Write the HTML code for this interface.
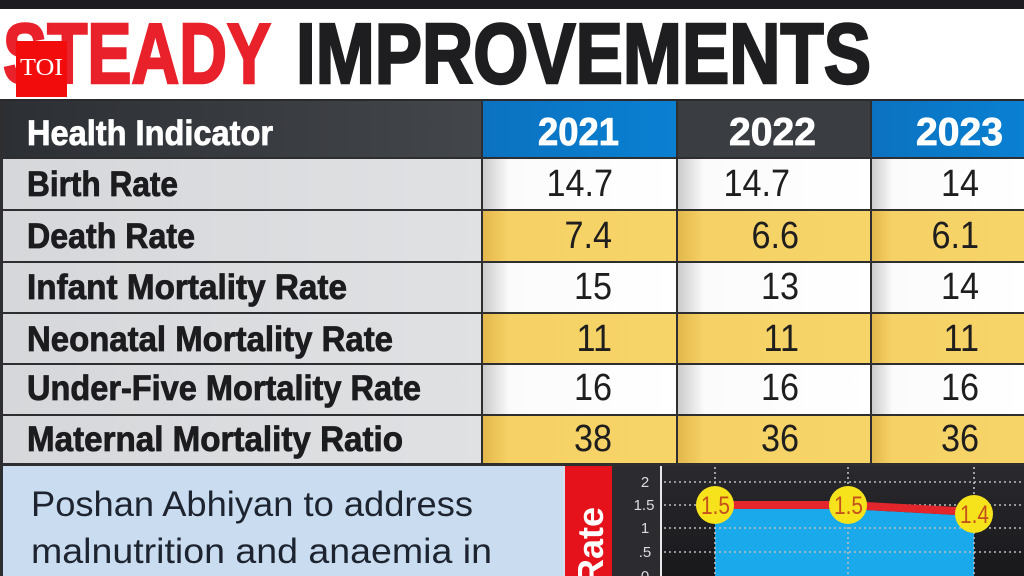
<!DOCTYPE html>
<html>
<head>
<meta charset="utf-8">
<style>
  html,body{margin:0;padding:0;background:#fff;}
  svg{display:block;}
</style>
</head>
<body>
<svg width="1024" height="576" viewBox="0 0 1024 576" xmlns="http://www.w3.org/2000/svg">
  <defs>
    <linearGradient id="whiteCell" x1="0" y1="0" x2="1" y2="0">
      <stop offset="0" stop-color="#c9c9c9"/>
      <stop offset="0.14" stop-color="#fbfbfb"/>
      <stop offset="1" stop-color="#ffffff"/>
    </linearGradient>
    <linearGradient id="yellowCell" x1="0" y1="0" x2="1" y2="0">
      <stop offset="0" stop-color="#e2b64a"/>
      <stop offset="0.14" stop-color="#f6d266"/>
      <stop offset="1" stop-color="#f7d468"/>
    </linearGradient>
    <linearGradient id="labelCell" x1="0" y1="0" x2="1" y2="0">
      <stop offset="0" stop-color="#d5d7da"/>
      <stop offset="1" stop-color="#dfe1e3"/>
    </linearGradient>
    <linearGradient id="hdrDark" x1="0" y1="0" x2="1" y2="0">
      <stop offset="0" stop-color="#2c2f33"/>
      <stop offset="1" stop-color="#43464b"/>
    </linearGradient>
    <linearGradient id="hdrBlue" x1="0" y1="0" x2="1" y2="0">
      <stop offset="0" stop-color="#0b72c0"/>
      <stop offset="1" stop-color="#0a80d2"/>
    </linearGradient>
    <linearGradient id="chartBg" x1="0" y1="0" x2="0" y2="1">
      <stop offset="0" stop-color="#2a2a2e"/>
      <stop offset="1" stop-color="#18181b"/>
    </linearGradient>
  </defs>

  <!-- top black bar -->
  <rect x="0" y="0" width="1024" height="9" fill="#1d1d21"/>
  <rect x="0" y="9" width="1024" height="91" fill="#ffffff"/>

  <!-- Title -->
  <text x="3" y="83" font-family="Liberation Sans, sans-serif" font-weight="bold" font-size="85" fill="#e8212b" stroke="#e8212b" stroke-width="2.5" textLength="268" lengthAdjust="spacingAndGlyphs">STEADY</text>
  <text x="296" y="83" font-family="Liberation Sans, sans-serif" font-weight="bold" font-size="85" fill="#1e1e20" stroke="#1e1e20" stroke-width="2.5" textLength="575" lengthAdjust="spacingAndGlyphs">IMPROVEMENTS</text>

  <!-- TOI logo -->
  <rect x="16" y="41" width="51" height="56" fill="#f20c0c"/>
  <text x="20" y="75" font-family="Liberation Serif, serif" font-size="24" fill="#ffffff" textLength="43" lengthAdjust="spacingAndGlyphs">TOI</text>

  <!-- Header row -->
  <rect x="0" y="100" width="482" height="58" fill="url(#hdrDark)"/>
  <rect x="482" y="100" width="195" height="58" fill="url(#hdrBlue)"/>
  <rect x="677" y="100" width="194" height="58" fill="#3a3d42"/>
  <rect x="871" y="100" width="153" height="58" fill="url(#hdrBlue)"/>
  <rect x="0" y="99" width="1024" height="2" fill="#2a2a2e"/>

  <g font-family="Liberation Sans, sans-serif" font-weight="bold" fill="#ffffff" stroke="#ffffff" stroke-width="0.8">
    <text x="27" y="145" font-size="35" textLength="246" lengthAdjust="spacingAndGlyphs">Health Indicator</text>
    <text x="538" y="145" font-size="39" textLength="81" lengthAdjust="spacingAndGlyphs">2021</text>
    <text x="729" y="145" font-size="39" textLength="87" lengthAdjust="spacingAndGlyphs">2022</text>
    <text x="916" y="145" font-size="39" textLength="87" lengthAdjust="spacingAndGlyphs">2023</text>
  </g>

  <!-- Rows backgrounds -->
  <rect x="0" y="158" width="482" height="52" fill="url(#labelCell)"/>
  <rect x="482" y="158" width="195" height="52" fill="url(#whiteCell)"/>
  <rect x="677" y="158" width="194" height="52" fill="url(#whiteCell)"/>
  <rect x="871" y="158" width="153" height="52" fill="url(#whiteCell)"/>
  <rect x="0" y="210" width="482" height="52" fill="url(#labelCell)"/>
  <rect x="482" y="210" width="195" height="52" fill="url(#yellowCell)"/>
  <rect x="677" y="210" width="194" height="52" fill="url(#yellowCell)"/>
  <rect x="871" y="210" width="153" height="52" fill="url(#yellowCell)"/>
  <rect x="0" y="262" width="482" height="51" fill="url(#labelCell)"/>
  <rect x="482" y="262" width="195" height="51" fill="url(#whiteCell)"/>
  <rect x="677" y="262" width="194" height="51" fill="url(#whiteCell)"/>
  <rect x="871" y="262" width="153" height="51" fill="url(#whiteCell)"/>
  <rect x="0" y="313" width="482" height="51" fill="url(#labelCell)"/>
  <rect x="482" y="313" width="195" height="51" fill="url(#yellowCell)"/>
  <rect x="677" y="313" width="194" height="51" fill="url(#yellowCell)"/>
  <rect x="871" y="313" width="153" height="51" fill="url(#yellowCell)"/>
  <rect x="0" y="364" width="482" height="51" fill="url(#labelCell)"/>
  <rect x="482" y="364" width="195" height="51" fill="url(#whiteCell)"/>
  <rect x="677" y="364" width="194" height="51" fill="url(#whiteCell)"/>
  <rect x="871" y="364" width="153" height="51" fill="url(#whiteCell)"/>
  <rect x="0" y="415" width="482" height="50" fill="url(#labelCell)"/>
  <rect x="482" y="415" width="195" height="50" fill="url(#yellowCell)"/>
  <rect x="677" y="415" width="194" height="50" fill="url(#yellowCell)"/>
  <rect x="871" y="415" width="153" height="50" fill="url(#yellowCell)"/>

  <!-- Grid lines -->
  <g fill="#2e2e30">
    <rect x="0" y="157" width="1024" height="2"/>
    <rect x="0" y="209" width="1024" height="2"/>
    <rect x="0" y="261" width="1024" height="2"/>
    <rect x="0" y="312" width="1024" height="2"/>
    <rect x="0" y="363" width="1024" height="2"/>
    <rect x="0" y="414" width="1024" height="2"/>
    <rect x="0" y="463" width="1024" height="3"/>
    <rect x="0" y="100" width="3" height="366"/>
    <rect x="481" y="100" width="2" height="366"/>
    <rect x="676" y="100" width="2" height="366"/>
    <rect x="870" y="100" width="2" height="366"/>
  </g>

  <!-- Row labels -->
  <g font-family="Liberation Sans, sans-serif" font-weight="bold" font-size="35" fill="#1c1c1e" stroke="#1c1c1e" stroke-width="0.8">
    <text x="27" y="196" textLength="151" lengthAdjust="spacingAndGlyphs">Birth Rate</text>
    <text x="27" y="248" textLength="168" lengthAdjust="spacingAndGlyphs">Death Rate</text>
    <text x="27" y="299" textLength="320" lengthAdjust="spacingAndGlyphs">Infant Mortality Rate</text>
    <text x="27" y="351" textLength="366" lengthAdjust="spacingAndGlyphs">Neonatal Mortality Rate</text>
    <text x="27" y="400" textLength="394" lengthAdjust="spacingAndGlyphs">Under-Five Mortality Rate</text>
    <text x="27" y="451" textLength="376" lengthAdjust="spacingAndGlyphs">Maternal Mortality Ratio</text>
  </g>

  <!-- Values -->
  <g font-family="Liberation Sans, sans-serif" font-size="38" fill="#1e1e1e" text-anchor="end">
    <!-- 2021 -->
    <text transform="translate(613,196) scale(0.9,1)">14.7</text>
    <text transform="translate(612,248) scale(0.9,1)">7.4</text>
    <text transform="translate(612,299) scale(0.9,1)">15</text>
    <text transform="translate(612,351) scale(0.9,1)">11</text>
    <text transform="translate(612,400) scale(0.9,1)">16</text>
    <text transform="translate(612,451) scale(0.9,1)">38</text>
    <!-- 2022 -->
    <text transform="translate(790,196) scale(0.9,1)">14.7</text>
    <text transform="translate(799,248) scale(0.9,1)">6.6</text>
    <text transform="translate(799,299) scale(0.9,1)">13</text>
    <text transform="translate(799,351) scale(0.9,1)">11</text>
    <text transform="translate(799,400) scale(0.9,1)">16</text>
    <text transform="translate(799,451) scale(0.9,1)">36</text>
    <!-- 2023 -->
    <text transform="translate(979,196) scale(0.9,1)">14</text>
    <text transform="translate(979,248) scale(0.9,1)">6.1</text>
    <text transform="translate(979,299) scale(0.9,1)">14</text>
    <text transform="translate(979,351) scale(0.9,1)">11</text>
    <text transform="translate(979,400) scale(0.9,1)">16</text>
    <text transform="translate(979,451) scale(0.9,1)">36</text>
  </g>

  <!-- Bottom section -->
  <rect x="0" y="466" width="563" height="110" fill="#c9dcf0"/>
  <rect x="0" y="466" width="3" height="110" fill="#2e2e30"/>
  <rect x="563" y="466" width="3" height="110" fill="#d9dfe8"/>
  <text x="31" y="516" font-family="Liberation Sans, sans-serif" font-size="35" fill="#1d2430" textLength="442" lengthAdjust="spacingAndGlyphs">Poshan Abhiyan to address</text>
  <text x="31" y="563" font-family="Liberation Sans, sans-serif" font-size="35" fill="#1d2430" textLength="461" lengthAdjust="spacingAndGlyphs">malnutrition and anaemia in</text>

  <!-- red Rate bar -->
  <rect x="565" y="466" width="47" height="110" fill="#e5121c"/>
  <text transform="translate(603,507) rotate(-90)" text-anchor="end" font-family="Liberation Sans, sans-serif" font-weight="bold" font-size="36" fill="#ffffff">Rate</text>

  <!-- chart -->
  <rect x="612" y="466" width="48" height="110" fill="#2c2c30"/>
  <rect x="662" y="466" width="362" height="110" fill="url(#chartBg)"/>
  <rect x="660" y="466" width="2" height="110" fill="#e8e8e8"/>

  <g font-family="Liberation Sans, sans-serif" font-size="15" fill="#dcdcdc" text-anchor="middle">
    <text x="645" y="487">2</text>
    <text x="644" y="510">1.5</text>
    <text x="645" y="533">1</text>
    <text x="645" y="557">.5</text>
    <text x="645" y="581">0</text>
  </g>

  <!-- blue area -->
  <polygon points="715,509 848,509 974,516 974,576 715,576" fill="#1aa9ea"/>

  <!-- dotted grid -->
  <g stroke="#bdbdbd" stroke-width="1.6" stroke-dasharray="2,3" fill="none">
    <line x1="664" y1="482" x2="1024" y2="482"/>
    <line x1="664" y1="505" x2="1024" y2="505"/>
    <line x1="664" y1="528" x2="1024" y2="528"/>
    <line x1="664" y1="552" x2="1024" y2="552"/>
    <line x1="715" y1="467" x2="715" y2="576"/>
    <line x1="848" y1="467" x2="848" y2="576"/>
    <line x1="974" y1="467" x2="974" y2="576"/>
  </g>

  <!-- red line -->
  <polyline points="715,505 848,505 974,512" fill="none" stroke="#e2262b" stroke-width="8"/>

  <!-- value circles -->
  <g>
    <circle cx="715" cy="505" r="19" fill="#f6e31c"/>
    <circle cx="848" cy="505" r="19" fill="#f6e31c"/>
    <circle cx="974" cy="514" r="19" fill="#f6e31c"/>
  </g>
  <g font-family="Liberation Sans, sans-serif" font-size="25" fill="#c4501c">
    <text x="701" y="514" textLength="29" lengthAdjust="spacingAndGlyphs">1.5</text>
    <text x="834" y="514" textLength="29" lengthAdjust="spacingAndGlyphs">1.5</text>
    <text x="960" y="523" textLength="29" lengthAdjust="spacingAndGlyphs">1.4</text>
  </g>
</svg>
</body>
</html>
